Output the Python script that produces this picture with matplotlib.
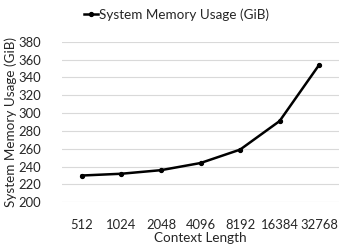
import matplotlib.pyplot as plt

plt.rcParams['font.family'] = ['Lato', 'DejaVu Sans']

context_lengths = ['512', '1024', '2048', '4096', '8192', '16384', '32768']
memory_gib = [230, 232, 236, 244, 259, 291, 354]
y_ticks = list(range(200, 381, 20))

fig = plt.figure(figsize=(3.53, 2.49), dpi=100)
ax = fig.add_axes([0.176, 0.1876, 0.784, 0.645])

x = range(len(context_lengths))
ax.plot(x, memory_gib, color='black', linewidth=1.8, marker='o', markersize=2.8,
        label='System Memory Usage (GiB)')

ax.set_xlim(-0.5, len(context_lengths) - 0.5)
ax.set_ylim(200, 380)
ax.set_yticks(y_ticks)
ax.set_xticks(list(x))
ax.set_xticklabels(context_lengths)
ax.grid(axis='y', color='#d9d9d9', linewidth=0.8)
ax.set_axisbelow(True)
for s in ax.spines.values():
    s.set_visible(False)
ax.tick_params(axis='both', length=0, labelsize=9.4, colors='#262626')
ax.tick_params(axis='y', pad=15)
ax.tick_params(axis='x', pad=12)

ax.set_xlabel('Context Length', fontsize=9.7, color='#262626', labelpad=1)
ax.set_ylabel('System Memory Usage (GiB)', fontsize=9.7, color='#262626', labelpad=1)

fig.legend(loc='upper center', bbox_to_anchor=(0.5, 1.015), frameon=False,
           fontsize=9.7, handlelength=1.0, handletextpad=0.1, labelcolor='#262626')

fig.savefig('out.png', dpi=100)
